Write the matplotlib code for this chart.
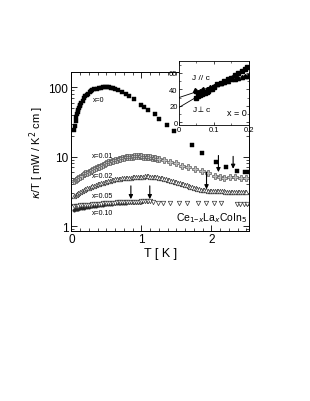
import matplotlib
matplotlib.use("Agg")
import matplotlib.pyplot as plt
from matplotlib.ticker import MultipleLocator, FixedLocator

plt.rcParams['font.family'] = ['Liberation Sans', 'DejaVu Sans']

# ---------------- data ----------------
T_x0 = [0.04, 0.05, 0.06, 0.07, 0.08, 0.09, 0.10, 0.11, 0.12, 0.13, 0.14, 0.16, 0.18, 0.20,
        0.22, 0.24, 0.26, 0.28, 0.30, 0.33, 0.36, 0.39, 0.42, 0.45, 0.48, 0.51, 0.54, 0.57,
        0.60, 0.63, 0.67, 0.72, 0.78, 0.83, 0.89, 1.00, 1.04, 1.09, 1.19, 1.25, 1.36, 1.46,
        1.72, 1.87, 2.07, 2.21, 2.36, 2.48, 2.53]
K_x0 = [24, 28, 33, 37, 41, 44, 47, 50, 53, 56, 59, 64, 70, 74,
        78, 81, 84, 87, 90, 93, 95, 97, 98.5, 99.5, 100, 100, 99.5, 98.5,
        97, 93, 90, 85, 80, 75, 68, 56, 52.6, 47, 41, 35, 29, 23.5,
        14.9, 11.2, 8.3, 7.1, 6.3, 6.0, 6.0]

T_x001 = [0.04, 0.06, 0.08, 0.10, 0.12, 0.15, 0.18, 0.20, 0.22, 0.25, 0.28, 0.30, 0.33, 0.35,
          0.38, 0.40, 0.43, 0.45, 0.48, 0.50, 0.53, 0.55, 0.58, 0.60, 0.63, 0.65, 0.68, 0.70,
          0.73, 0.75, 0.78, 0.80, 0.83, 0.85, 0.88, 0.90, 0.93, 0.95, 0.98, 1.00, 1.03, 1.05,
          1.08, 1.10, 1.13, 1.15, 1.18, 1.20, 1.23, 1.25,
          1.33, 1.41, 1.49, 1.58, 1.67, 1.76, 1.86, 1.95, 2.05, 2.12, 2.18, 2.27, 2.33, 2.42, 2.50]
K_x001 = [4.5, 4.6, 4.75, 4.9, 5.05, 5.3, 5.55, 5.75, 5.9, 6.1, 6.3, 6.4, 6.65, 6.8,
          7.05, 7.2, 7.45, 7.6, 7.85, 8.0, 8.25, 8.4, 8.65, 8.8, 9.0, 9.1, 9.3, 9.4,
          9.6, 9.7, 9.8, 9.85, 9.95, 10.0, 10.05, 10.1, 10.1, 10.1, 10.1, 10.1, 10.05, 10.0,
          9.95, 9.9, 9.8, 9.7, 9.6, 9.5, 9.4, 9.3,
          8.9, 8.5, 8.1, 7.4, 7.0, 6.6, 6.2, 5.8, 5.3, 5.1, 5.0, 5.1, 5.1, 5.0, 5.0]

T_x002 = [0.04, 0.06, 0.08, 0.10, 0.125, 0.15, 0.175, 0.20, 0.225, 0.25, 0.275, 0.30, 0.325,
          0.35, 0.375, 0.40, 0.425, 0.45, 0.475, 0.50, 0.525, 0.55, 0.575, 0.60, 0.625, 0.65,
          0.675, 0.70, 0.725, 0.75, 0.775, 0.80, 0.825, 0.85, 0.875, 0.90, 0.925, 0.95, 0.975,
          1.00, 1.025, 1.05, 1.075, 1.10, 1.125, 1.15, 1.175, 1.20, 1.225, 1.25, 1.275, 1.30,
          1.325, 1.35, 1.375, 1.40, 1.425, 1.45, 1.475, 1.50, 1.525, 1.55, 1.575, 1.60, 1.625,
          1.65, 1.675, 1.70, 1.725, 1.75, 1.775, 1.80, 1.825, 1.85, 1.875, 1.90, 1.925, 1.95,
          1.975, 2.00, 2.025, 2.05, 2.075, 2.10, 2.125, 2.15, 2.175, 2.20, 2.225, 2.25, 2.275,
          2.30, 2.325, 2.35, 2.375, 2.40, 2.425, 2.45, 2.475, 2.50]
K_x002 = [2.75, 2.85, 2.95, 3.05, 3.15, 3.25, 3.35, 3.45, 3.52, 3.6, 3.68, 3.75, 3.82,
          3.9, 3.98, 4.05, 4.12, 4.2, 4.28, 4.35, 4.42, 4.5, 4.58, 4.65, 4.7, 4.75,
          4.8, 4.85, 4.9, 4.95, 4.98, 5.0, 5.0, 5.0, 5.02, 5.05, 5.08, 5.1, 5.12,
          5.15, 5.18, 5.2, 5.2, 5.2, 5.18, 5.15, 5.12, 5.1, 5.05, 5.0, 4.95, 4.9,
          4.82, 4.75, 4.68, 4.6, 4.52, 4.45, 4.38, 4.3, 4.22, 4.15, 4.08, 4.0, 3.92,
          3.85, 3.78, 3.7, 3.62, 3.55, 3.5, 3.45, 3.4, 3.35, 3.32, 3.3, 3.28, 3.25,
          3.22, 3.2, 3.2, 3.18, 3.18, 3.17, 3.17, 3.16, 3.16, 3.15, 3.15, 3.15, 3.15,
          3.15, 3.15, 3.15, 3.15, 3.15, 3.15, 3.15, 3.15, 3.15]

T_x005 = [0.04, 0.06, 0.08, 0.10, 0.125, 0.15, 0.175, 0.20, 0.225, 0.25, 0.275, 0.30, 0.325,
          0.35, 0.375, 0.40, 0.425, 0.45, 0.475, 0.50, 0.525, 0.55, 0.575, 0.60, 0.625, 0.65,
          0.675, 0.70, 0.725, 0.75, 0.775, 0.80, 0.825, 0.85, 0.875, 0.90, 0.925, 0.95, 0.975,
          1.00, 1.025, 1.05, 1.075, 1.10, 1.125,
          1.17, 1.24, 1.31, 1.41, 1.53, 1.65, 1.81, 1.92, 2.03, 2.13, 2.36, 2.41, 2.46, 2.51]
K_x005 = [1.95, 1.96, 1.97, 1.98, 1.99, 2.0, 2.01, 2.02, 2.03, 2.04, 2.05, 2.06, 2.07,
          2.08, 2.09, 2.1, 2.11, 2.12, 2.13, 2.14, 2.15, 2.16, 2.17, 2.18, 2.19, 2.2,
          2.2, 2.21, 2.21, 2.22, 2.22, 2.23, 2.23, 2.24, 2.24, 2.25, 2.25, 2.26, 2.26,
          2.27, 2.27, 2.28, 2.28, 2.28, 2.28,
          2.2, 2.18, 2.17, 2.15, 2.14, 2.13, 2.12, 2.12, 2.12, 2.12, 2.1, 2.1, 2.1, 2.1]

T_x010 = [0.04, 0.06, 0.08, 0.10, 0.125, 0.15, 0.175, 0.20, 0.225, 0.25, 0.275, 0.30, 0.325,
          0.35, 0.375, 0.40, 0.425, 0.45, 0.475, 0.50, 0.525, 0.55, 0.575, 0.60, 0.625, 0.65,
          0.675, 0.70, 0.725, 0.75, 0.775, 0.80, 0.825, 0.85, 0.875, 0.90, 0.925, 0.95, 0.975, 1.00]
K_x010 = [1.72, 1.74, 1.76, 1.78, 1.8, 1.82, 1.84, 1.86, 1.88, 1.9, 1.92, 1.94, 1.96,
          1.98, 2.0, 2.02, 2.03, 2.05, 2.06, 2.08, 2.09, 2.1, 2.11, 2.12, 2.13, 2.14,
          2.15, 2.16, 2.17, 2.18, 2.19, 2.2, 2.2, 2.21, 2.21, 2.22, 2.22, 2.23, 2.23, 2.24]

# arrows: position, start value, tip value
arrow_T = [2.10, 2.31, 1.93, 0.85, 1.12]
arrow_from = [10.4, 10.1, 6.0, 3.8, 3.8]
arrow_to = [6.0, 6.7, 3.4, 2.45, 2.45]

series_labels = ["x=0", "x=0.01", "x=0.02", "x=0.05", "x=0.10"]
label_T = [0.31, 0.29, 0.29, 0.29, 0.29]
label_K = [66, 10.3, 5.3, 2.75, 1.55]

# inset data
Ti_perp = [0.050, 0.055, 0.060, 0.065, 0.070, 0.075, 0.080, 0.085, 0.090, 0.095, 0.100, 0.110,
           0.120, 0.130, 0.140, 0.150, 0.160, 0.170, 0.180, 0.190, 0.197]
Ki_perp = [30, 32, 33, 34, 35, 36, 37, 38, 40, 41, 43, 46, 48, 50, 52, 54, 57, 60, 62, 65, 67]
Ti_par = [0.045, 0.050, 0.055, 0.060, 0.065, 0.070, 0.080, 0.090, 0.100, 0.110, 0.120, 0.130,
          0.140, 0.150, 0.160, 0.170, 0.180, 0.190, 0.198]
Ki_par = [39, 38, 37, 38, 39, 40, 41, 43, 44, 46, 48, 49, 50, 52, 53, 54, 55, 56, 56]
fit_T = [0.0, 0.2]
fit_perp = [18, 68]
fit_par = [30, 58]

# ---------------- figure ----------------
fig = plt.figure(figsize=(3.10, 4.02), dpi=100)
ax = fig.add_axes([0.229, 0.4236, 0.575, 0.3955])

ax.plot(T_x010, K_x010, ls='none', marker='o', ms=2.4, mfc='0.15', mec='0.15', mew=0.4)
ax.plot(T_x005, K_x005, ls='none', marker='v', ms=3.2, mfc='white', mec='0.2', mew=0.5)
ax.plot(T_x002, K_x002, ls='none', marker='^', ms=3.2, mfc='white', mec='0.2', mew=0.5)
ax.plot(T_x001, K_x001, ls='none', marker='P', ms=3.8, mfc='0.75', mec='0.3', mew=0.45)
ax.plot(T_x0, K_x0, ls='none', marker='s', ms=2.4, mfc='black', mec='black', mew=0.3)

for t, a, b in zip(arrow_T, arrow_from, arrow_to):
    ax.annotate('', xy=(t, b), xytext=(t, a),
                arrowprops=dict(arrowstyle='-|>', color='black', lw=0.8,
                                mutation_scale=6, shrinkA=0, shrinkB=0))

for s, t, k in zip(series_labels, label_T, label_K):
    ax.text(t, k, s, fontsize=5, va='center', ha='left')

ax.text(0.985, 0.085, r'Ce$_{1\mathregular{-}x}$La$_x$CoIn$_5$', transform=ax.transAxes,
        fontsize=7.5, ha='right', va='center')

ax.set_yscale('log')
ax.set_xlim(-0.005, 2.54)
ax.set_ylim(0.86, 167)
ax.xaxis.set_major_locator(FixedLocator([0, 1, 2]))
ax.xaxis.set_minor_locator(MultipleLocator(0.125))
ax.set_xticklabels(['0', '1', '2'])
ax.set_yticks([1, 10, 100])
ax.set_yticklabels(['1', '10', '100'])
ax.tick_params(which='both', direction='in', top=True, right=True, labelsize=8.5, pad=2)
ax.tick_params(which='major', length=4, width=0.6)
ax.tick_params(which='minor', length=2, width=0.5)
for sp in ax.spines.values():
    sp.set_linewidth(0.7)
ax.set_xlabel('T [ K ]', fontsize=9, labelpad=1)
ax.set_ylabel(r'$\kappa$/T [ mW / K$^2$ cm ]', fontsize=8, labelpad=2)

# ---------------- inset ----------------
ins = fig.add_axes([0.577, 0.687, 0.227, 0.158])
ins.set_zorder(5)
ins.patch.set_facecolor('white')
ins.plot(fit_T, fit_perp, color='black', lw=0.6)
ins.plot(fit_T, fit_par, color='black', lw=0.6)
ins.plot(Ti_perp, Ki_perp, ls='none', marker='s', ms=2.2, mfc='black', mec='black')
ins.plot(Ti_par, Ki_par, ls='none', marker='^', ms=3.0, mfc='black', mec='black')
ins.set_xlim(0, 0.202)
ins.set_ylim(-3, 74)
ins.set_xticks([0, 0.1, 0.2])
ins.set_xticklabels(['0', '0.1', '0.2'])
ins.set_yticks([0, 20, 40, 60])
ins.xaxis.set_minor_locator(MultipleLocator(0.05))
ins.yaxis.set_minor_locator(MultipleLocator(10))
ins.tick_params(which='both', direction='in', top=True, right=True, labelsize=5.5, pad=1)
ins.tick_params(which='major', length=2.5, width=0.5)
ins.tick_params(which='minor', length=1.5, width=0.4)
for sp in ins.spines.values():
    sp.set_linewidth(0.6)
ins.text(0.038, 54, 'J // c', fontsize=6, ha='left', va='center')
ins.text(0.038, 18, r'J$\mathregular{\perp}$c', fontsize=6, ha='left', va='center')
ins.text(0.138, 12, 'x = 0', fontsize=6.5, ha='left', va='center')

fig.savefig('out.png', dpi=100)
